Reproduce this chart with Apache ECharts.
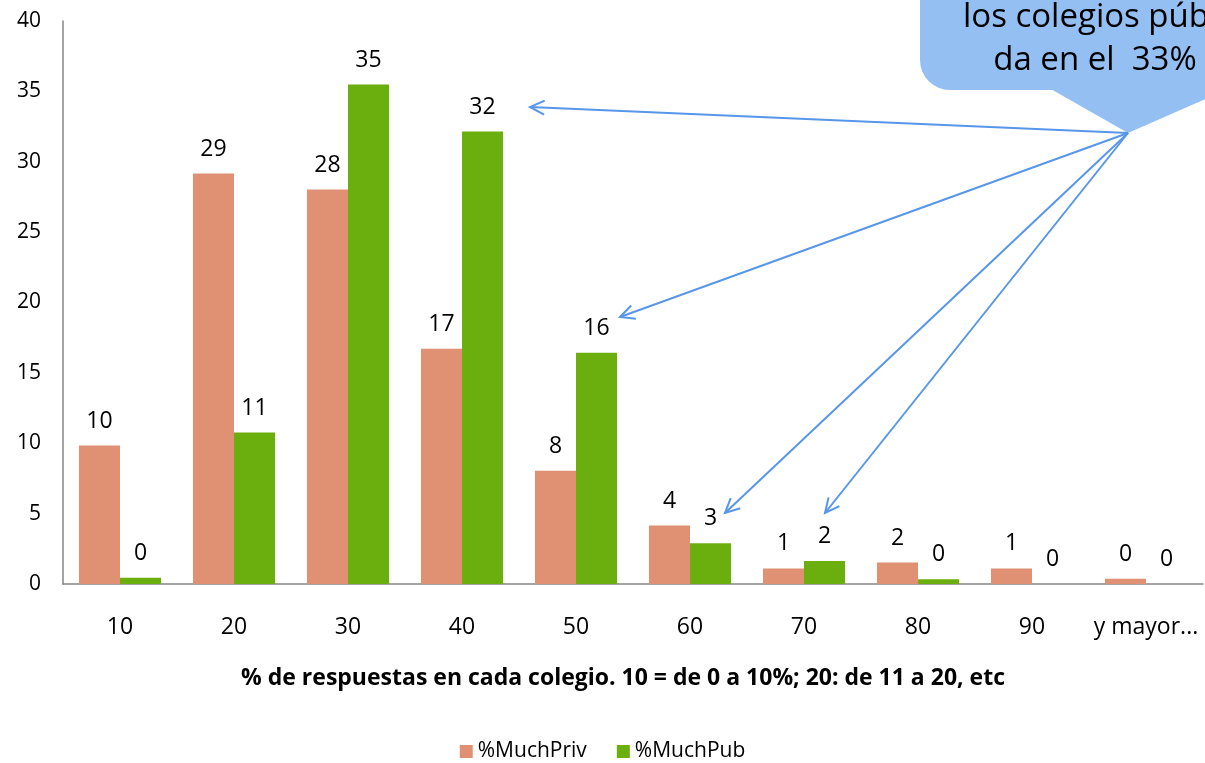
<!DOCTYPE html>
<html><head><meta charset="utf-8">
<script src="https://cdn.jsdelivr.net/npm/echarts@6/dist/echarts.min.js"></script>
<style>html,body{margin:0;padding:0;background:#fff}#c{width:1205px;height:763px}</style>
</head><body><div id="c"></div>
<script>
const categories = ['10','20','30','40','50','60','70','80','90','y mayor...'];
const muchPriv = [9.84, 29.16, 28.02, 16.71, 8.04, 4.15, 1.11, 1.52, 1.11, 0.38];
const muchPub  = [0.45, 10.76, 35.49, 32.15, 16.43, 2.89, 1.64, 0.33, 0, 0];
const yTicks = {min: 0, max: 40, interval: 5};
const xTitle = '% de respuestas en cada colegio. 10 = de 0 a 10%; 20: de 11 a 20, etc';
const calloutLines = ['los colegios públicos', 'da en el  33%'];

const FONT = '"Open Sans", Lato, sans-serif';
const chart = echarts.init(document.getElementById('c'), null, {renderer: 'canvas'});

const labelCfg = {
  show: true, position: 'top', distance: 13, color: '#000', fontSize: 23, fontFamily: FONT,
  formatter: p => String(Math.round(p.value))
};

function arrow(x1, y1, x2, y2) {
  const ang = Math.atan2(y2 - y1, x2 - x1);
  const L = 16, a = 0.45;
  const p1 = [x2 - L * Math.cos(ang - a), y2 - L * Math.sin(ang - a)];
  const p2 = [x2 - L * Math.cos(ang + a), y2 - L * Math.sin(ang + a)];
  const st = {stroke: '#5896EA', lineWidth: 2, fill: null};
  return [
    {type: 'line', shape: {x1, y1, x2, y2}, style: st, z: 50},
    {type: 'polyline', shape: {points: [p1, [x2, y2], p2]}, style: st, z: 50}
  ];
}

const tip = [1128, 133];
const graphics = [
  {type: 'rect', shape: {x: 920, y: -60, width: 400, height: 150, r: 30}, style: {fill: '#93BFF2'}, z: 40},
  {type: 'polygon', shape: {points: [[1035, 80], [tip[0], tip[1]], [1260, 75]]}, style: {fill: '#93BFF2'}, z: 40},
  {type: 'text', x: 1120, y: 18, style: {text: calloutLines[0], fill: '#000', font: '33px ' + FONT, textAlign: 'center', textVerticalAlign: 'middle'}, z: 45},
  {type: 'text', x: 1095, y: 61, style: {text: calloutLines[1], fill: '#000', font: '33px ' + FONT, textAlign: 'center', textVerticalAlign: 'middle'}, z: 45},
  ...arrow(tip[0], tip[1], 530, 107),
  ...arrow(tip[0], tip[1], 620, 317),
  ...arrow(tip[0], tip[1], 725, 513),
  ...arrow(tip[0], tip[1], 825, 513)
];

chart.setOption({
  animation: false,
  textStyle: {fontFamily: FONT},
  grid: {left: 63, right: 2, top: 21, bottom: 179, containLabel: false},
  legend: {
    top: 736, left: 'center', itemWidth: 13, itemHeight: 13, itemGap: 30, icon: 'rect',
    textStyle: {fontSize: 21, color: '#000', fontFamily: FONT}
  },
  xAxis: {
    type: 'category', data: categories,
    axisLine: {lineStyle: {color: '#868686', width: 1.5}},
    axisTick: {show: false},
    axisLabel: {color: '#000', fontSize: 23, margin: 32, fontFamily: FONT, interval: 0},
    name: xTitle, nameLocation: 'middle', nameGap: 83,
    nameTextStyle: {fontWeight: 'bold', fontSize: 23, color: '#000', fontFamily: FONT, padding: [0, 20, 0, 0]}
  },
  yAxis: {
    type: 'value', min: yTicks.min, max: yTicks.max, interval: yTicks.interval,
    axisLine: {show: true, lineStyle: {color: '#868686', width: 1.5}},
    axisTick: {show: false},
    splitLine: {show: false},
    axisLabel: {color: '#000', fontSize: 21, margin: 22, fontFamily: FONT}
  },
  series: [
    {name: '%MuchPriv', type: 'bar', data: muchPriv, itemStyle: {color: '#E09073'},
     barGap: '0%', barCategoryGap: '28%', label: labelCfg},
    {name: '%MuchPub', type: 'bar', data: muchPub, itemStyle: {color: '#6BAF0F'},
     barGap: '0%', barCategoryGap: '28%', label: labelCfg}
  ],
  graphic: graphics
});
</script></body></html>
